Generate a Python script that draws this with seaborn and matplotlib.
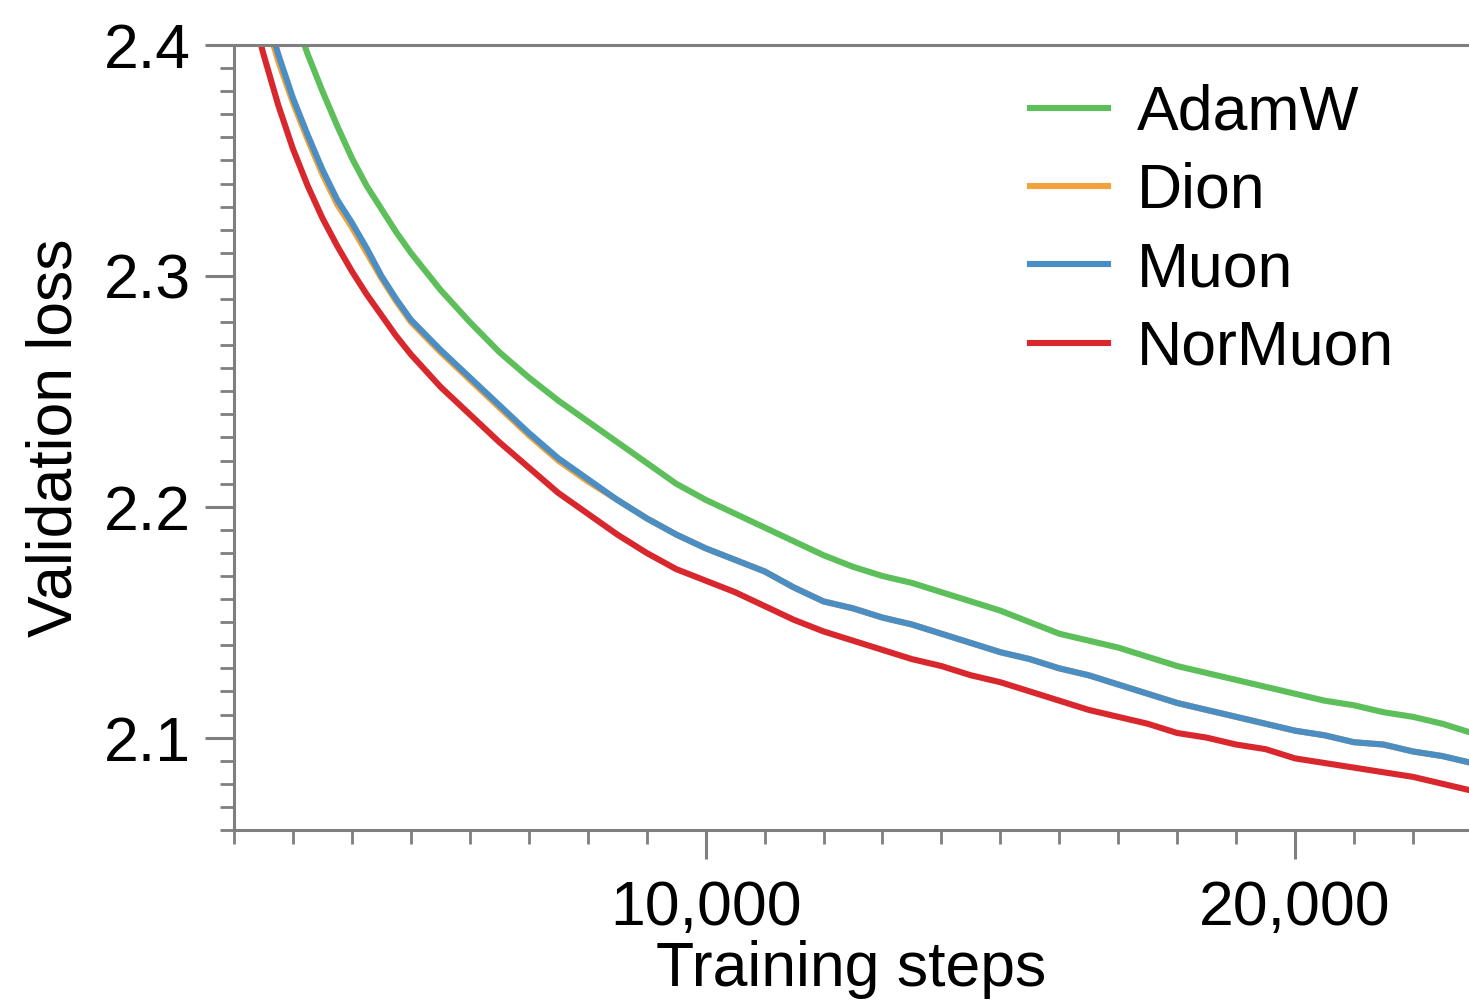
import pandas as pd
import seaborn as sns
import matplotlib.pyplot as plt
from matplotlib.ticker import MultipleLocator, FuncFormatter

steps = list(range(2000, 5000, 250)) + list(range(5000, 23500, 500))

adamw = [2.490, 2.470, 2.450, 2.432, 2.414, 2.396, 2.380, 2.365, 2.351, 2.339, 2.329, 2.319,
         2.310, 2.294, 2.280, 2.267, 2.256, 2.246, 2.237, 2.228, 2.219, 2.210, 2.203, 2.197,
         2.191, 2.185, 2.179, 2.174, 2.170, 2.167, 2.163, 2.159, 2.155, 2.150, 2.145, 2.142,
         2.139, 2.135, 2.131, 2.128, 2.125, 2.122, 2.119, 2.116, 2.114, 2.111, 2.109, 2.106,
         2.102]
dion = [2.467, 2.440, 2.415, 2.393, 2.375, 2.359, 2.344, 2.331, 2.321, 2.310, 2.299, 2.289,
        2.280, 2.267, 2.255, 2.243, 2.231, 2.220, 2.211, 2.203, 2.195, 2.188, 2.182, 2.177,
        2.172, 2.165, 2.159, 2.156, 2.152, 2.149, 2.145, 2.141, 2.137, 2.134, 2.130, 2.127,
        2.123, 2.119, 2.115, 2.112, 2.109, 2.106, 2.103, 2.101, 2.098, 2.097, 2.094, 2.092,
        2.089]
muon = [2.470, 2.443, 2.418, 2.396, 2.377, 2.361, 2.346, 2.333, 2.323, 2.312, 2.300, 2.290,
        2.281, 2.268, 2.256, 2.244, 2.232, 2.221, 2.212, 2.203, 2.195, 2.188, 2.182, 2.177,
        2.172, 2.165, 2.159, 2.156, 2.152, 2.149, 2.145, 2.141, 2.137, 2.134, 2.130, 2.127,
        2.123, 2.119, 2.115, 2.112, 2.109, 2.106, 2.103, 2.101, 2.098, 2.097, 2.094, 2.092,
        2.089]
normuon = [2.448, 2.420, 2.396, 2.374, 2.355, 2.339, 2.325, 2.313, 2.302, 2.292, 2.283, 2.274,
           2.266, 2.252, 2.240, 2.228, 2.217, 2.206, 2.197, 2.188, 2.180, 2.173, 2.168, 2.163,
           2.157, 2.151, 2.146, 2.142, 2.138, 2.134, 2.131, 2.127, 2.124, 2.120, 2.116, 2.112,
           2.109, 2.106, 2.102, 2.100, 2.097, 2.095, 2.091, 2.089, 2.087, 2.085, 2.083, 2.080,
           2.077]

optimizers = ['AdamW', 'Dion', 'Muon', 'NorMuon']
colors = {'AdamW': '#5cbf5a', 'Dion': '#f2a23a', 'Muon': '#4a8ec4', 'NorMuon': '#d8282e'}

df = pd.concat([
    pd.DataFrame({'step': steps, 'loss': vals, 'optimizer': name})
    for name, vals in zip(optimizers, [adamw, dion, muon, normuon])
])

plt.rcParams['font.family'] = ['Liberation Sans', 'DejaVu Sans']
fig = plt.figure(figsize=(14.69, 10.07), dpi=100)
ax = fig.add_axes([0.1593, 0.1758, 0.8407, 0.7795])

sns.lineplot(data=df, x='step', y='loss', hue='optimizer', hue_order=optimizers,
             palette=colors, linewidth=4.4, ax=ax)

ax.set_xlim(2000, 22950)
ax.set_ylim(2.06, 2.4)

ax.xaxis.set_major_locator(MultipleLocator(10000))
ax.xaxis.set_minor_locator(MultipleLocator(1000))
ax.yaxis.set_major_locator(MultipleLocator(0.1))
ax.yaxis.set_minor_locator(MultipleLocator(0.01))
ax.xaxis.set_major_formatter(FuncFormatter(lambda v, p: f'{int(v):,}'))
ax.yaxis.set_major_formatter(FuncFormatter(lambda v, p: f'{v:.1f}'))

spine_col = '#7f7f7f'
for side in ['left', 'bottom', 'top']:
    ax.spines[side].set_color(spine_col)
    ax.spines[side].set_linewidth(2.2)
ax.spines['right'].set_visible(False)

ax.tick_params(axis='both', which='major', length=21, width=2.2, color=spine_col,
               labelsize=45, pad=10, direction='out')
ax.tick_params(axis='both', which='minor', length=10, width=2.0, color=spine_col,
               direction='out')
ax.tick_params(axis='x', which='major', pad=14)

ax.set_xlabel('Training steps', fontsize=45, labelpad=2)
ax.set_ylabel('Validation loss', fontsize=45, labelpad=14)

leg = ax.legend(loc='upper left', bbox_to_anchor=(0.680, 0.948), bbox_transform=fig.transFigure,
                frameon=False, fontsize=45, handlelength=1.25, handletextpad=0.45,
                labelspacing=0.31, borderpad=0)
for line in leg.get_lines():
    line.set_linewidth(4.4)

fig.savefig('out.png', dpi=100)
